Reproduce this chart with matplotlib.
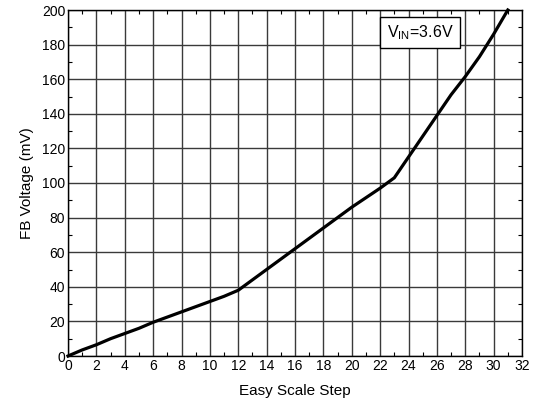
import numpy as np
import matplotlib.pyplot as plt
from matplotlib.ticker import MultipleLocator

plt.rcParams['font.family'] = ['Liberation Sans', 'DejaVu Sans']

steps = [0, 1, 2, 3, 4, 5, 6, 7, 8, 9, 10, 11, 12, 13, 14, 15, 16,
         17, 18, 19, 20, 21, 22, 23, 24, 25, 26, 27, 28, 29, 30, 31]
fb_mv = [0, 3.5, 6.5, 10, 13, 16, 19.5, 22.5, 25.5, 28.5, 31.5, 34.5, 38,
         44, 50, 56, 62, 68, 74, 80, 86, 91.5, 97, 103,
         115, 127, 139, 151, 161.5, 173, 186, 200]


def main():
    fig = plt.figure(figsize=(5.38, 4.07), dpi=100)
    ax = fig.add_axes([68 / 538, 1 - 356 / 407, 454 / 538, 346 / 407])

    ax.plot(steps, fb_mv, color="black", lw=2.3, zorder=3, clip_on=False)

    ax.set_xlim(0, 32)
    ax.set_ylim(0, 200)
    ax.xaxis.set_major_locator(MultipleLocator(2))
    ax.xaxis.set_minor_locator(MultipleLocator(1))
    ax.yaxis.set_major_locator(MultipleLocator(20))
    ax.yaxis.set_minor_locator(MultipleLocator(10))
    ax.grid(True, which="major", color="#3a3a3a", lw=1.0)
    ax.tick_params(which="both", direction="in", top=True, right=True,
                   labelsize=10, pad=2)
    ax.tick_params(which="major", length=0)
    ax.tick_params(which="minor", length=3, width=0.8)
    for s in ax.spines.values():
        s.set_linewidth(1.0)

    ax.set_xlabel("Easy Scale Step", fontsize=11, labelpad=8)
    ax.set_ylabel("FB Voltage (mV)", fontsize=11, labelpad=6)

    ax.text(24.8, 187, r"V$_{\mathregular{IN}}$=3.6V", fontsize=11.5,
            ha="center", va="center", zorder=4,
            bbox=dict(boxstyle="square,pad=0.4", fc="white", ec="black", lw=1))

    fig.savefig("out.png", dpi=100)


if __name__ == "__main__":
    main()
